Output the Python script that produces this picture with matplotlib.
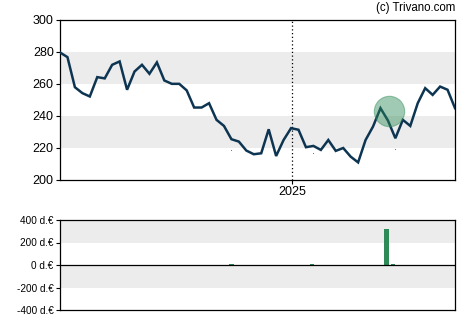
import matplotlib
matplotlib.use("Agg")
import matplotlib.pyplot as plt
import numpy as np
import pandas as pd
import matplotlib.dates as mdates

plt.rcParams['font.family'] = ['Liberation Sans', 'DejaVu Sans']

prices = [279.7, 276.8, 258.0, 254.3, 252.2, 264.3, 263.5, 272.0, 274.1, 256.4,
          267.8, 272.0, 266.4, 273.5, 262.2, 260.1, 260.1, 256.0, 245.3, 245.3,
          248.0, 237.6, 233.8, 225.5, 224.0, 218.4, 216.1, 216.7, 231.7, 215.0,
          225.0, 232.4, 231.4, 220.5, 221.3, 218.8, 225.0, 218.2, 220.0, 214.6,
          211.0, 225.0, 233.4, 244.9, 237.2, 226.1, 237.6, 233.8, 248.0, 257.4,
          253.2, 258.4, 256.4, 244.9]
dates = pd.date_range("2024-05-28", periods=len(prices), freq="7D")

marker_week = 44.2
marker_value = 243.2

dot_weeks = [23, 34, 45]
dot_values = [218.5, 217.0, 219.5]

vol_weeks = [23.0, 33.8, 43.8, 44.7]
vol_values = [12, 12, 320, 12]

price_ticks = [200, 220, 240, 260, 280, 300]
vol_ticks = [-400, -200, 0, 200, 400]
vol_labels = ["-400 d.€", "-200 d.€", "0 d.€", "200 d.€", "400 d.€"]
year_tick = pd.Timestamp("2025-01-01")

W, H = 470, 325
fig = plt.figure(figsize=(W / 100, H / 100), dpi=100)
ax = fig.add_axes([60 / W, 1 - 180 / H, 395 / W, 160 / H])
ax2 = fig.add_axes([60 / W, 1 - 310 / H, 395 / W, 90 / H])

x = mdates.date2num(dates)
x0, x1 = x[0], x[-1]
step = x[1] - x[0]

def wk(w):
    return x0 + w * step

# main chart
ax.axhspan(220, 240, color="#ececec", lw=0)
ax.axhspan(260, 280, color="#ececec", lw=0)
ax.plot(x, prices, color="#0d3552", lw=1.8, solid_joinstyle="miter", zorder=3)
ax.scatter([wk(marker_week)], [marker_value], s=480, color="#2e8b57", alpha=0.45,
           edgecolors="#2e8b57", linewidths=0.8, zorder=4)
ax.scatter([wk(w) for w in dot_weeks], dot_values, s=0.4, color="#2a7a6a", lw=0, zorder=2)
xt = mdates.date2num(year_tick)
ax.axvline(xt, color="black", lw=0.9, ls=(0, (1, 2)), zorder=2)
ax.set_xlim(x0, x1)
ax.set_ylim(200, 300)
ax.set_yticks(price_ticks)
ax.set_xticks([xt])
ax.set_xticklabels(["2025"])
ax.tick_params(axis="both", labelsize=9, length=3, width=0.8, pad=1.5, colors="black")
for s in ax.spines.values():
    s.set_linewidth(0.9)

# volume chart
ax2.axhspan(200, 400, color="#ececec", lw=0)
ax2.axhspan(-200, 0, color="#ececec", lw=0)
ax2.bar([wk(w) for w in vol_weeks], vol_values, width=step * 0.62, color="#2e8b57", zorder=3)
ax2.axhline(0, color="black", lw=0.9, zorder=4)
ax2.set_xlim(x0, x1)
ax2.set_ylim(-400, 400)
ax2.set_yticks(vol_ticks)
ax2.set_yticklabels(vol_labels)
ax2.set_xticks([])
ax2.tick_params(axis="y", labelsize=7.2, length=3, width=0.8, pad=1.5)
for s in ax2.spines.values():
    s.set_linewidth(0.9)

fig.text(455 / W, 1 - 8 / H, "(c) Trivano.com", ha="right", va="center", fontsize=8.3)

fig.savefig("out.png", dpi=100)
